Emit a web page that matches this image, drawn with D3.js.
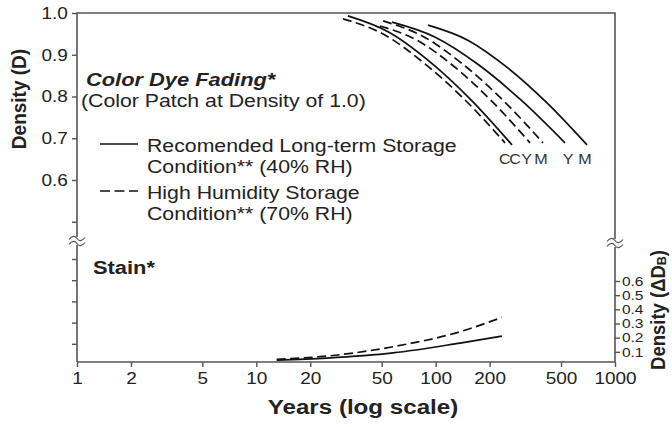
<!DOCTYPE html>
<html>
<head>
<meta charset="utf-8">
<script src="https://cdn.jsdelivr.net/npm/d3@7"></script>
<style>
  body { margin: 0; background: #fff; }
  svg { font-family: "Liberation Sans", Arial, Helvetica, sans-serif; }
  .tick text { fill: #222; }
</style>
</head>
<body>
<div id="chart"></div>
<script>
// tick labels
const yearTicks = [1, 2, 5, 10, 20, 50, 100, 200, 500, 1000]
const densityTicks = [0.5, 0.6, 0.7, 0.8, 0.9, 1.0]
const stainLeftTicks = [0.1, 0.2, 0.3, 0.4, 0.5]
const stainRightTicks = [0.1, 0.2, 0.3, 0.4, 0.5, 0.6]

// dye fading curves: years and density
const cDashYears = [30.4, 51.2, 86.1, 144.8, 243.6]
const cDashDensity = [0.986, 0.949, 0.880, 0.793, 0.689]
const cSolidYears = [32.4, 54.9, 93.0, 157.4, 266.6]
const cSolidDensity = [0.993, 0.954, 0.883, 0.792, 0.684]
const yDashYears = [48.9, 79.2, 128.2, 207.5, 335.9]
const yDashDensity = [0.969, 0.934, 0.870, 0.787, 0.689]
const mDashYears = [50.9, 85.0, 142.1, 237.4, 396.8]
const mDashDensity = [0.981, 0.944, 0.877, 0.791, 0.689]
const ySolidYears = [57.1, 99.5, 173.4, 302.0, 526.3]
const ySolidDensity = [0.978, 0.942, 0.876, 0.790, 0.689]
const mSolidYears = [90.7, 151.0, 251.5, 419.0, 698.2]
const mSolidDensity = [0.971, 0.935, 0.869, 0.784, 0.684]

// stain curves: years and delta density (right axis)
const stainYears = [13.0, 24.8, 57.8, 136.7, 234]
const stainSolid = [0.042, 0.056, 0.092, 0.162, 0.211]
const stainDashed = [0.047, 0.070, 0.136, 0.242, 0.343]

const curveLabels = ['C', 'C', 'Y', 'M', 'Y', 'M']
const labelYears = [243, 277, 322, 386, 548, 680]

let width = 672, height = 427
let plot = {left: 77, right: 615, top: 13, bottom: 362}
const sx = 1.15  // text in the original is a bit wide

let svg = d3.select('#chart').append('svg')
  .attr('width', width)
  .attr('height', height)
  .style('background-color', '#FFFFFF')

let x = d3.scaleLog().domain([1, 1000]).range([plot.left, plot.right])
let y = d3.scaleLinear().domain([0.6, 1.0]).range([180, plot.top])
let yStainL = d3.scaleLinear().domain([0, 0.5]).range([365, 259])
let yStainR = d3.scaleLinear().domain([0, 0.6]).range([366, 281])

const axisColor = '#555'

function addText(px, py, str, size, opts) {
  opts = opts || {}
  let t = svg.append('text')
    .attr('transform', `translate(${px},${py}) scale(${sx},1)`)
    .attr('text-anchor', opts.anchor || 'start')
    .style('font-size', size + 'px')
    .style('font-weight', opts.bold ? 'bold' : null)
    .style('font-style', opts.italic ? 'italic' : null)
    .attr('fill', opts.fill || '#222')
    .text(str)
  return t
}

// frame + axes lines
svg.append('path')
  .attr('d', `M${plot.left},${plot.bottom}V${plot.top}H${plot.right}V${plot.bottom}H${plot.left}`)
  .attr('fill', 'none')
  .attr('stroke', axisColor)
  .attr('stroke-width', 1.6)

// x axis
let gx = svg.append('g')
  .attr('transform', `translate(0,${plot.bottom})`)
  .call(d3.axisBottom(x).tickValues(yearTicks).tickFormat(d3.format('d')).tickSize(5).tickPadding(5))
gx.select('.domain').remove()
gx.selectAll('line').attr('stroke', axisColor).attr('stroke-width', 1.4)
gx.selectAll('text').style('font-size', '16.5px').attr('transform', `scale(${sx},1)`)

// left axis (density)
let gy = svg.append('g')
  .attr('transform', `translate(${plot.left},0)`)
  .call(d3.axisLeft(y).tickValues(densityTicks)
    .tickFormat(function(d) { return d < 0.55 ? '' : d3.format('.1f')(d) })
    .tickSize(5).tickPadding(3))
gy.select('.domain').remove()
gy.selectAll('line').attr('stroke', axisColor).attr('stroke-width', 1.4)
gy.selectAll('text').style('font-size', '16.5px').attr('transform', `scale(${sx},1)`)

// left axis lower ticks (stain, unlabeled)
let gyl = svg.append('g')
  .attr('transform', `translate(${plot.left},0)`)
  .call(d3.axisLeft(yStainL).tickValues(stainLeftTicks).tickFormat('').tickSize(5))
gyl.select('.domain').remove()
gyl.selectAll('line').attr('stroke', axisColor).attr('stroke-width', 1.4)

// right axis (stain)
let gyr = svg.append('g')
  .attr('transform', `translate(${plot.right},0)`)
  .call(d3.axisRight(yStainR).tickValues(stainRightTicks).tickFormat(d3.format('.1f')).tickSize(5).tickPadding(1))
gyr.select('.domain').remove()
gyr.selectAll('line').attr('stroke', axisColor).attr('stroke-width', 1.4)
gyr.selectAll('text').style('font-size', '13.5px').attr('transform', `scale(${sx},1)`)

// break marks
function breakMark(cx, cy) {
  let g = svg.append('g').attr('transform', `translate(${cx},${cy})`)
  g.append('rect').attr('x', -2).attr('y', -4).attr('width', 4).attr('height', 8).attr('fill', '#fff')
  ;[-2.5, 2.5].forEach(function(dy) {
    g.append('path')
      .attr('d', `M-8,${dy + 1} C-5,${dy - 3} -2,${dy - 3} 0,${dy} S5,${dy + 3} 8,${dy - 1}`)
      .attr('fill', 'none').attr('stroke', axisColor).attr('stroke-width', 1.2)
  })
}
breakMark(plot.left, 241)
breakMark(plot.right, 243)

// fading curves
let fadeLine = d3.line()
  .curve(d3.curveMonotoneX)
  .x(function(d) { return x(d[0]) })
  .y(function(d) { return y(d[1]) })

let fadeSeries = [
  {years: cDashYears, dens: cDashDensity, dashed: true},
  {years: cSolidYears, dens: cSolidDensity, dashed: false},
  {years: yDashYears, dens: yDashDensity, dashed: true},
  {years: mDashYears, dens: mDashDensity, dashed: true},
  {years: ySolidYears, dens: ySolidDensity, dashed: false},
  {years: mSolidYears, dens: mSolidDensity, dashed: false}
]

svg.selectAll('.fade')
  .data(fadeSeries)
  .enter().append('path')
  .attr('class', 'fade')
  .attr('d', function(s) { return fadeLine(s.years.map(function(v, i) { return [v, s.dens[i]] })) })
  .attr('fill', 'none')
  .attr('stroke', '#111')
  .attr('stroke-width', 1.7)
  .attr('stroke-dasharray', function(s) { return s.dashed ? '9,4.5' : null })

curveLabels.forEach(function(d, i) {
  addText(x(labelYears[i]), 164, d, 14, {anchor: 'middle', fill: '#333'})
})

// stain curves
let stainLine = d3.line()
  .curve(d3.curveMonotoneX)
  .x(function(d) { return x(d[0]) })
  .y(function(d) { return yStainR(d[1]) })

;[{vals: stainSolid, dashed: false}, {vals: stainDashed, dashed: true}].forEach(function(s) {
  svg.append('path')
    .attr('d', stainLine(stainYears.map(function(v, i) { return [v, s.vals[i]] })))
    .attr('fill', 'none')
    .attr('stroke', '#111')
    .attr('stroke-width', 1.7)
    .attr('stroke-dasharray', s.dashed ? '9,4.5' : null)
})

// annotations
addText(86, 86, 'Color Dye Fading*', 19, {bold: true, italic: true})
addText(81, 107, '(Color Patch at Density of 1.0)', 18.5)

// legend
let legendItems = [
  {dashed: false, lines: ['Recomended Long-term Storage', 'Condition** (40% RH)'], y: 144},
  {dashed: true, lines: ['High Humidity Storage', 'Condition** (70% RH)'], y: 191}
]
legendItems.forEach(function(item) {
  svg.append('line')
    .attr('x1', 100).attr('x2', 138)
    .attr('y1', item.y).attr('y2', item.y)
    .attr('stroke', '#111').attr('stroke-width', 1.7)
    .attr('stroke-dasharray', item.dashed ? '10,4.5' : null)
  item.lines.forEach(function(t, i) {
    addText(147, item.y + 8 + i * 21, t, 18.5)
  })
})

addText(93, 274, 'Stain*', 19, {bold: true})

// axis titles
svg.append('text')
  .attr('transform', 'translate(26,99) rotate(-90) scale(1,1.1)')
  .attr('text-anchor', 'middle')
  .style('font-size', '19px').style('font-weight', 'bold')
  .attr('fill', '#222')
  .text('Density (D)')

addText(363, 414, 'Years (log scale)', 21, {bold: true, anchor: 'middle'})

let rt = svg.append('text')
  .attr('transform', 'translate(665,310) rotate(-90) scale(1,1.05)')
  .attr('text-anchor', 'middle')
  .style('font-size', '18.5px').style('font-weight', 'bold')
  .attr('fill', '#222')
rt.append('tspan').text('Density (\u0394D')
rt.append('tspan').attr('dy', 1).style('font-size', '12.5px').text('B')
rt.append('tspan').attr('dy', -1).text(')')
</script>
</body>
</html>
